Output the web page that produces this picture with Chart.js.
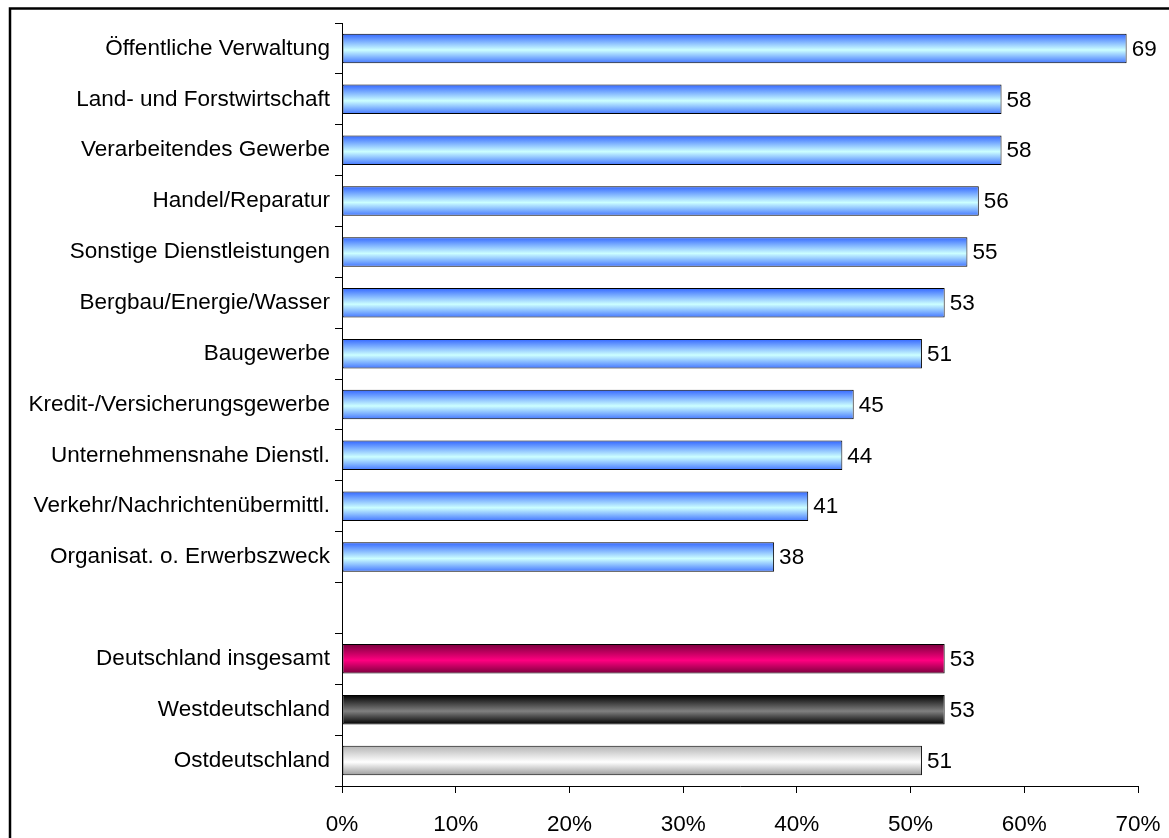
<!DOCTYPE html>
<html>
<head>
<meta charset="utf-8">
<script src="https://cdn.jsdelivr.net/npm/chart.js@4.4.0/dist/chart.umd.min.js"></script>
<style>
  html, body { margin: 0; padding: 0; background: #fff; }
  #wrap { width: 1169px; height: 838px; }
</style>
</head>
<body>
<div id="wrap"><canvas id="chart" width="1169" height="838"></canvas></div>
<script>
const categories = [
  'Öffentliche Verwaltung',
  'Land- und Forstwirtschaft',
  'Verarbeitendes Gewerbe',
  'Handel/Reparatur',
  'Sonstige Dienstleistungen',
  'Bergbau/Energie/Wasser',
  'Baugewerbe',
  'Kredit-/Versicherungsgewerbe',
  'Unternehmensnahe Dienstl.',
  'Verkehr/Nachrichtenübermittl.',
  'Organisat. o. Erwerbszweck',
  '',
  'Deutschland insgesamt',
  'Westdeutschland',
  'Ostdeutschland'
];
const shares = [69, 58, 58, 56, 55, 53, 51, 45, 44, 41, 38, null, 53, 53, 51];
const tickValues = [0, 10, 20, 30, 40, 50, 60, 70];

// gradient per bar: edge colour -> middle colour -> edge colour
const palettes = {
  blue:  ['#3366ff', '#ccffff', '#4477ff'],
  pink:  ['#7a003d', '#ff0080', '#7a003d'],
  dark:  ['#000000', '#808080', '#000000'],
  light: ['#b4b4b4', '#ffffff', '#9a9a9a']
};
const barStyles = ['blue','blue','blue','blue','blue','blue','blue','blue','blue','blue','blue',
                   'blue','pink','dark','light'];

const FONT = "'Liberation Sans', Arial, sans-serif";
const FONT_SIZE = 22.5;
const BAR_PCT = 0.58;

function barFill(ctx) {
  const pal = palettes[barStyles[ctx.dataIndex]];
  const chart = ctx.chart;
  const yScale = chart.scales && chart.scales.y;
  if (!yScale || !chart.chartArea || ctx.type !== 'data') return pal[1];
  const c = yScale.getPixelForValue(ctx.dataIndex);
  const h = (yScale.height / categories.length) * BAR_PCT;
  const g = chart.ctx.createLinearGradient(0, c - h / 2, 0, c + h / 2);
  g.addColorStop(0, pal[0]);
  g.addColorStop(0.55, pal[1]);
  g.addColorStop(1, pal[2]);
  return g;
}

const frame = {
  id: 'frame',
  beforeDraw(chart) {
    const c = chart.ctx;
    c.save();
    c.fillStyle = '#fff';
    c.fillRect(0, 0, chart.width, chart.height);
    c.strokeStyle = '#000';
    c.lineWidth = 2.5;
    c.strokeRect(10, 8.5, chart.width + 50, chart.height + 50);
    c.restore();
  }
};

const valueLabels = {
  id: 'valueLabels',
  afterDatasetsDraw(chart) {
    const c = chart.ctx;
    const meta = chart.getDatasetMeta(0);
    c.save();
    c.font = FONT_SIZE + 'px ' + FONT;
    c.fillStyle = '#000';
    c.textAlign = 'left';
    c.textBaseline = 'middle';
    meta.data.forEach((bar, i) => {
      if (shares[i] == null) return;
      c.fillText(String(shares[i]), bar.x + 5, bar.y + 1);
    });
    c.restore();
  }
};

new Chart(document.getElementById('chart'), {
  type: 'bar',
  data: {
    labels: categories,
    datasets: [{
      data: shares,
      backgroundColor: barFill,
      borderColor: '#000',
      borderWidth: 1,
      borderSkipped: false,
      barPercentage: BAR_PCT,
      categoryPercentage: 1
    }]
  },
  options: {
    indexAxis: 'y',
    responsive: false,
    animation: false,
    devicePixelRatio: 1,
    layout: { padding: { top: 23, right: 31, left: 0, bottom: 0 } },
    plugins: {
      legend: { display: false },
      tooltip: { enabled: false }
    },
    scales: {
      x: {
        min: 0,
        max: 70,
        afterBuildTicks: (scale) => { scale.ticks = tickValues.map(v => ({ value: v })); },
        afterFit: (scale) => {
          scale.height = 52;
          scale.paddingLeft = 0;
          scale.paddingRight = 0;
        },
        border: { color: '#000', width: 1 },
        grid: { drawOnChartArea: false, tickLength: 7, color: '#000' },
        ticks: {
          callback: (v) => v + '%',
          color: '#000',
          padding: 18,
          maxRotation: 0,
          font: { family: FONT, size: FONT_SIZE }
        }
      },
      y: {
        afterFit: (scale) => {
          scale.width = 342;
          scale.paddingTop = 0;
          scale.paddingBottom = 0;
        },
        border: { color: '#000', width: 1 },
        grid: { drawOnChartArea: false, offset: true, tickLength: 7, color: '#000' },
        ticks: {
          color: '#000',
          padding: 5,
          autoSkip: false,
          font: { family: FONT, size: FONT_SIZE }
        }
      }
    }
  },
  plugins: [frame, valueLabels]
});
</script>
</body>
</html>
